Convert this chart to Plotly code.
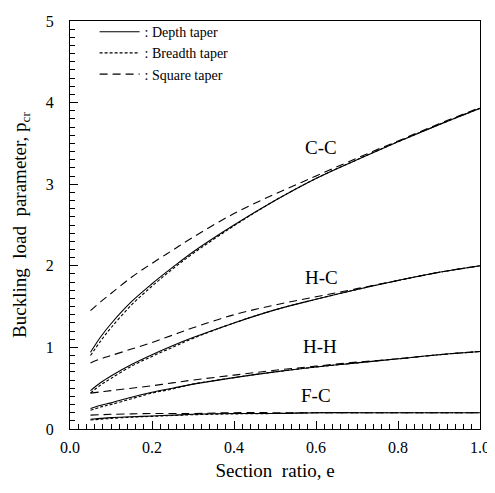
import plotly.graph_objects as go

e = [0.05, 0.075, 0.1, 0.15, 0.2, 0.25, 0.3, 0.4, 0.5, 0.6, 0.7, 0.8, 0.9, 1.0]

cc_depth   = [0.94, 1.13, 1.29, 1.56, 1.78, 1.98, 2.17, 2.50, 2.80, 3.07, 3.30, 3.52, 3.73, 3.93]
cc_breadth = [0.90, 1.08, 1.24, 1.52, 1.75, 1.96, 2.15, 2.49, 2.80, 3.07, 3.30, 3.52, 3.73, 3.93]
cc_square  = [1.45, 1.56, 1.66, 1.86, 2.03, 2.19, 2.35, 2.64, 2.88, 3.10, 3.32, 3.53, 3.74, 3.94]

hc_depth   = [0.47, 0.57, 0.65, 0.79, 0.91, 1.02, 1.12, 1.30, 1.46, 1.59, 1.71, 1.82, 1.92, 2.00]
hc_breadth = [0.44, 0.54, 0.62, 0.77, 0.89, 1.00, 1.11, 1.30, 1.46, 1.59, 1.71, 1.82, 1.92, 2.00]
hc_square  = [0.81, 0.86, 0.90, 0.98, 1.06, 1.15, 1.24, 1.40, 1.52, 1.62, 1.72, 1.82, 1.92, 2.00]

hh_depth   = [0.25, 0.29, 0.32, 0.39, 0.45, 0.50, 0.55, 0.63, 0.70, 0.76, 0.81, 0.86, 0.91, 0.95]
hh_breadth = [0.23, 0.27, 0.30, 0.37, 0.44, 0.49, 0.55, 0.63, 0.70, 0.76, 0.81, 0.86, 0.91, 0.95]
hh_square  = [0.44, 0.455, 0.47, 0.50, 0.53, 0.565, 0.60, 0.66, 0.72, 0.77, 0.82, 0.86, 0.91, 0.95]

fc_depth   = [0.12, 0.13, 0.14, 0.15, 0.16, 0.17, 0.18, 0.19, 0.19, 0.20, 0.20, 0.20, 0.20, 0.20]
fc_breadth = [0.11, 0.12, 0.13, 0.145, 0.155, 0.165, 0.175, 0.185, 0.19, 0.20, 0.20, 0.20, 0.20, 0.20]
fc_square  = [0.17, 0.175, 0.18, 0.185, 0.19, 0.19, 0.19, 0.20, 0.20, 0.20, 0.20, 0.20, 0.20, 0.20]

curve_labels = ["C-C", "H-C", "H-H", "F-C"]
label_pos = [(0.613, 3.45), (0.613, 1.86), (0.61, 1.01), (0.60, 0.41)]

taper_names = [": Depth taper", ": Breadth taper", ": Square taper"]
taper_dash = ["solid", "3px,2px", "8px,5px"]

groups = [
    (cc_depth, cc_breadth, cc_square),
    (hc_depth, hc_breadth, hc_square),
    (hh_depth, hh_breadth, hh_square),
    (fc_depth, fc_breadth, fc_square),
]

FONT = "Liberation Serif"

fig = go.Figure()
for gi, g in enumerate(groups):
    for ti, ys in enumerate(g):
        fig.add_trace(go.Scatter(
            x=e, y=ys, mode="lines", line_shape="spline",
            line=dict(color="black", width=1.1, dash=taper_dash[ti]),
            name=taper_names[ti], legendgroup=taper_names[ti],
            showlegend=(gi == 0),
        ))

for lab, (lx, ly) in zip(curve_labels, label_pos):
    fig.add_annotation(x=lx, y=ly, text=lab, showarrow=False,
                       font=dict(family=FONT, size=19, color="black"))

axis_common = dict(
    showgrid=False, zeroline=False, showline=True, linecolor="black",
    linewidth=1, mirror=True, ticks="inside", ticklen=8, tickcolor="black",
    tickfont=dict(family=FONT, size=16, color="black"),
    ticklabeloverflow="allow",
)

fig.update_xaxes(range=[0, 1.0], dtick=0.2, tickformat=".1f",
                 ticklabelstandoff=4,
                 minor=dict(dtick=0.02, ticks="inside", ticklen=5, tickcolor="black"),
                 title=dict(text="Section&nbsp; ratio, e", font=dict(family=FONT, size=19, color="black"), standoff=8),
                 **axis_common)
fig.update_yaxes(range=[0, 5], dtick=1,
                 ticklabelstandoff=12,
                 minor=dict(dtick=0.1, ticks="inside", ticklen=5, tickcolor="black"),
                 title=dict(text="Buckling&nbsp; load&nbsp; parameter, p<sub>cr</sub>", font=dict(family=FONT, size=19, color="black"), standoff=14),
                 **axis_common)

fig.update_layout(
    width=487, height=485,
    margin=dict(l=62, r=10, t=5, b=64),
    plot_bgcolor="white", paper_bgcolor="white",
    font=dict(family=FONT, color="black"),
    legend=dict(x=0.06, y=1.012, xanchor="left", yanchor="top",
                bgcolor="rgba(0,0,0,0)", font=dict(family=FONT, size=14, color="black"),
                tracegroupgap=0, itemwidth=40),
)

fig.write_html("out.html")
